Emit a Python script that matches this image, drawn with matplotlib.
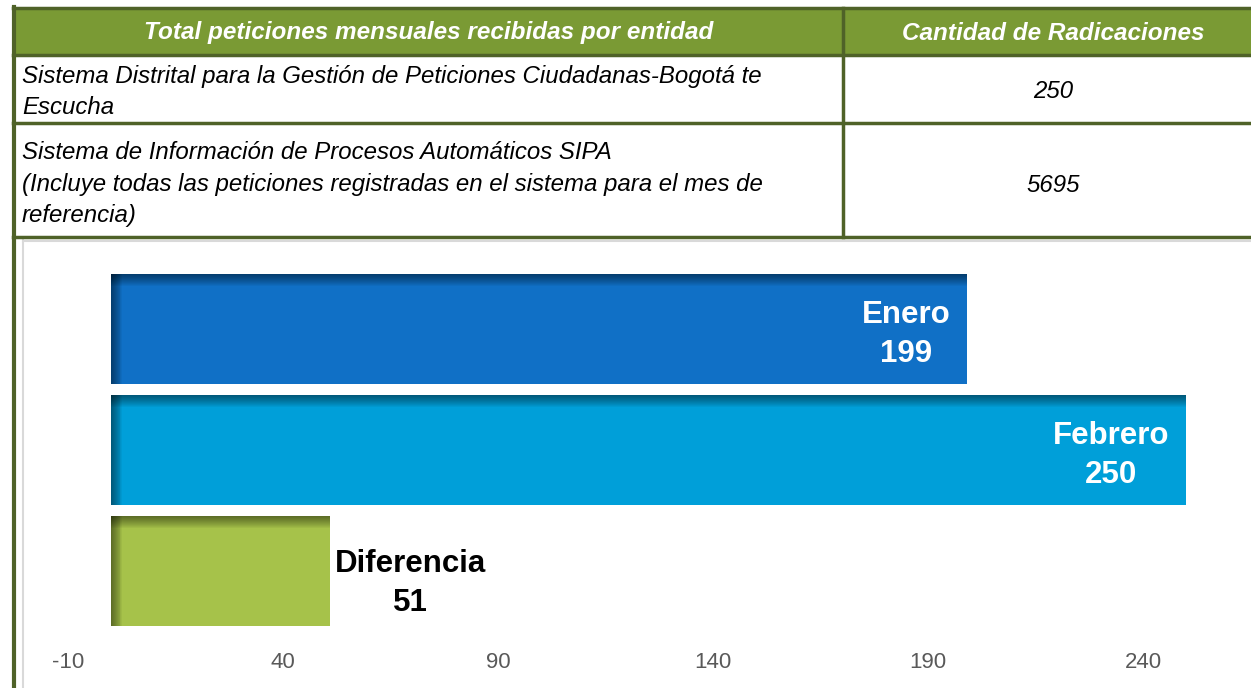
import matplotlib
matplotlib.use('Agg')
import matplotlib.pyplot as plt
from matplotlib.patches import Rectangle

# table content
header = ['Total peticiones mensuales recibidas por entidad', 'Cantidad de Radicaciones']
row_names = ['Sistema Distrital para la Gestión de Peticiones Ciudadanas-Bogotá te\nEscucha',
             'Sistema de Información de Procesos Automáticos SIPA\n(Incluye todas las peticiones registradas en el sistema para el mes de\nreferencia)']
row_values = ['250', '5695']

# bar chart data
months = ['Enero', 'Febrero', 'Diferencia']
counts = [199, 250, 51]
bar_colors = ['#1070c6', '#009fd9', '#a6c24a']
label_colors = ['white', 'white', 'black']
ticks = [-10, 40, 90, 140, 190, 240]

W, H = 1251, 688
olive = '#4f6228'
head_fill = '#7a9a34'
txt_font = ['Liberation Sans', 'DejaVu Sans']

fig = plt.figure(figsize=(W / 100, H / 100), dpi=100)

# --- overlay for table and frame, in pixel coords ---
ov = fig.add_axes([0, 0, 1, 1])
ov.set_xlim(0, W)
ov.set_ylim(H, 0)
ov.axis('off')

# chart frame (light gray)
ov.plot([23, 23], [240, H], color='#d9d9d9', lw=1.5)
ov.plot([23, W], [241, 241], color='#d9d9d9', lw=1.5)
# olive left border continuing down
ov.plot([13.5, 13.5], [7, H], color=olive, lw=3)

# header fill
ov.add_patch(Rectangle((13, 8), W - 13, 47, color=head_fill, lw=0))
for y in [8, 55, 123, 237]:
    ov.plot([13, W], [y, y], color=olive, lw=2.5)
ov.plot([843, 843], [8, 237], color=olive, lw=2.5)

ov.text(429, 33, header[0], ha='center', va='center', color='white',
        fontsize=17.5, fontweight='bold', style='italic', family=txt_font)
ov.text(1053, 33, header[1], ha='center', va='center', color='white',
        fontsize=17.5, fontweight='bold', style='italic', family=txt_font)

ov.text(22, 92, row_names[0], ha='left', va='center', color='black',
        fontsize=17.3, style='italic', family=txt_font, linespacing=1.4)
ov.text(22, 184, row_names[1], ha='left', va='center', color='black',
        fontsize=17.3, style='italic', family=txt_font, linespacing=1.45)
ov.text(1053, 92, row_values[0], ha='center', va='center', color='black',
        fontsize=17.3, style='italic', family=txt_font)
ov.text(1053, 185, row_values[1], ha='center', va='center', color='black',
        fontsize=17.3, style='italic', family=txt_font)

# --- chart axes (pixel box: x 24..1251, y 242..645) ---
px_per_unit = 4.3
x0_px = 111
ax = fig.add_axes([24 / W, 1 - 645 / H, (W - 24) / W, (645 - 242) / H])
ax.patch.set_alpha(0)
ax.set_xlim((24 - x0_px) / px_per_unit, (W - x0_px) / px_per_unit)
ax.set_ylim((645 - 329) / 121, (242 - 329) / 121)
ypos = list(range(len(months)))
bh = 0.91
ax.barh(ypos, counts, height=bh, color=bar_colors, zorder=2)

# soft inner shadow along top and left edges
for k in range(12):
    a = 0.045
    ax.barh([y - bh / 2 + (k + 1) * 0.004 for y in ypos], counts,
            height=(k + 1) * 0.008, color='black', alpha=a, zorder=3, linewidth=0)
    ax.barh(ypos, [min(c, (k + 1) * 0.22) for c in counts], height=bh,
            color='black', alpha=a, zorder=3, linewidth=0)

for y, c, m, col in zip(ypos, counts, months, label_colors):
    if col == 'white':
        ax.text(c - 3.8, y + 0.045, f'{m}\n{c}', ha='right', va='center', ma='center',
                color=col, fontsize=22.5, fontweight='bold', linespacing=1.4,
                family=txt_font, zorder=4)
    else:
        ax.text(c + 1, y + 0.1, f'{m}\n{c}', ha='left', va='center', ma='center',
                color=col, fontsize=22.5, fontweight='bold', linespacing=1.4,
                family=txt_font, zorder=4)

ax.set_xticks(ticks)
ax.set_xticklabels([str(t) for t in ticks], family=txt_font, fontsize=16, color='#595959')
ax.tick_params(axis='x', length=0, pad=5)
ax.set_yticks([])
for s in ax.spines.values():
    s.set_visible(False)

fig.savefig('out.png', dpi=100)
